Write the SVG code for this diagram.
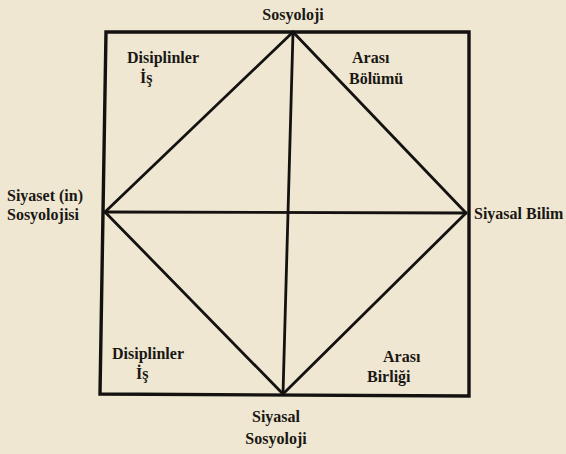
<svg xmlns="http://www.w3.org/2000/svg" width="566" height="454" viewBox="0 0 566 454">
<style>
.bg{fill:#efe7d2}
.frame{fill:none;stroke:#141210;stroke-width:3.4;stroke-linejoin:miter}
.ln{stroke:#141210;stroke-width:2.8;fill:none;stroke-linecap:round}
text{font-family:"Liberation Serif","Times New Roman",serif;font-weight:bold;font-size:16px;fill:#1a1714}
</style>
<rect class="bg" x="0" y="0" width="566" height="454"/>
<g id="connectors">
<path class="frame" d="M106,32 L469,32 L469,396 L100,394 Z"/>
<line class="ln" x1="293" y1="32" x2="283" y2="394"/>
<line class="ln" x1="105" y1="212" x2="466" y2="213"/>
<line class="ln" x1="293" y1="32" x2="105" y2="212"/>
<line class="ln" x1="293" y1="32" x2="466" y2="213"/>
<line class="ln" x1="105" y1="212" x2="283" y2="394"/>
<line class="ln" x1="466" y1="213" x2="283" y2="394"/>
</g>
<g id="node-top"><text x="293" y="20" text-anchor="middle">Sosyoloji</text></g>
<g id="node-left"><text x="45" y="201" text-anchor="middle">Siyaset (in)</text><text x="43" y="220" text-anchor="middle">Sosyolojisi</text></g>
<g id="node-right"><text x="474" y="219">Siyasal Bilim</text></g>
<g id="node-bottom"><text x="276" y="422" text-anchor="middle">Siyasal</text><text x="276" y="444" text-anchor="middle">Sosyoloji</text></g>
<g id="label-tl"><text x="127" y="63">Disiplinler</text><text x="140" y="83">İş</text></g>
<g id="label-tr"><text x="352" y="63">Arası</text><text x="349" y="84">Bölümü</text></g>
<g id="label-bl"><text x="112" y="359">Disiplinler</text><text x="136" y="379">İş</text></g>
<g id="label-br"><text x="383" y="362">Arası</text><text x="367" y="382">Birliği</text></g>
</svg>
